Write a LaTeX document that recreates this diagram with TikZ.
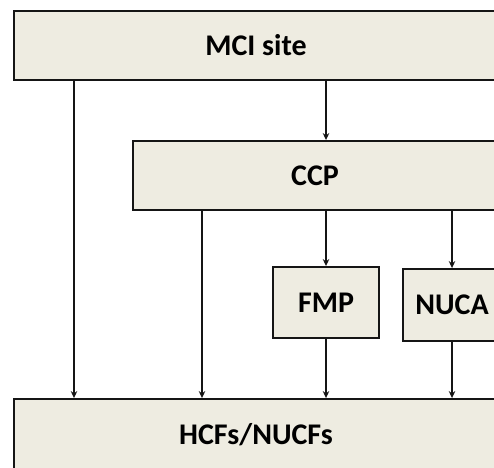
\documentclass[tikz,border=0pt]{standalone}
\usepackage{fontspec}
\setmainfont{Carlito}
\usetikzlibrary{arrows.meta}
\definecolor{boxfill}{HTML}{EEECE1}
\definecolor{boxline}{HTML}{151515}
\tikzset{
  block/.style={draw=boxline, line width=1.9pt, fill=boxfill, inner sep=0pt,
    font=\fontsize{30}{35}\selectfont\bfseries, text=black},
  arr/.style={draw=boxline, line width=1.8pt, -{Stealth[length=7pt,width=6.5pt]}}
}
\begin{document}
\begin{tikzpicture}[x=1pt,y=-1pt]
  \clip (0,0) rectangle (494,467);
  % boxes
  \node[block, minimum width=484pt, minimum height=69pt] (mci) at (256,45.5) {MCI site};
  \node[block, minimum width=364pt, minimum height=69pt] (ccp) at (315,175.5) {CCP};
  \node[block, minimum width=106pt, minimum height=71pt] (fmp) at (326,302.5) {FMP};
  \node[block, minimum width=98pt, minimum height=72pt] (nuca) at (452,305) {NUCA};
  \node[block, minimum width=484pt, minimum height=72pt] (hcf) at (256,435) {HCFs/NUCFs};
  % column positions of the direct links
  \coordinate (c1) at (74,0);
  \coordinate (c2) at (202,0);
  % connectors
  \draw[arr] (mci.south -| c1) -- (hcf.north -| c1);
  \draw[arr] (mci.south -| fmp) -- (ccp.north -| fmp);
  \draw[arr] (ccp.south -| c2) -- (hcf.north -| c2);
  \draw[arr] (ccp.south -| fmp) -- (fmp.north);
  \draw[arr] (ccp.south -| nuca) -- (nuca.north);
  \draw[arr] (fmp.south) -- (hcf.north -| fmp);
  \draw[arr] (nuca.south) -- (hcf.north -| nuca);
\end{tikzpicture}
\end{document}
